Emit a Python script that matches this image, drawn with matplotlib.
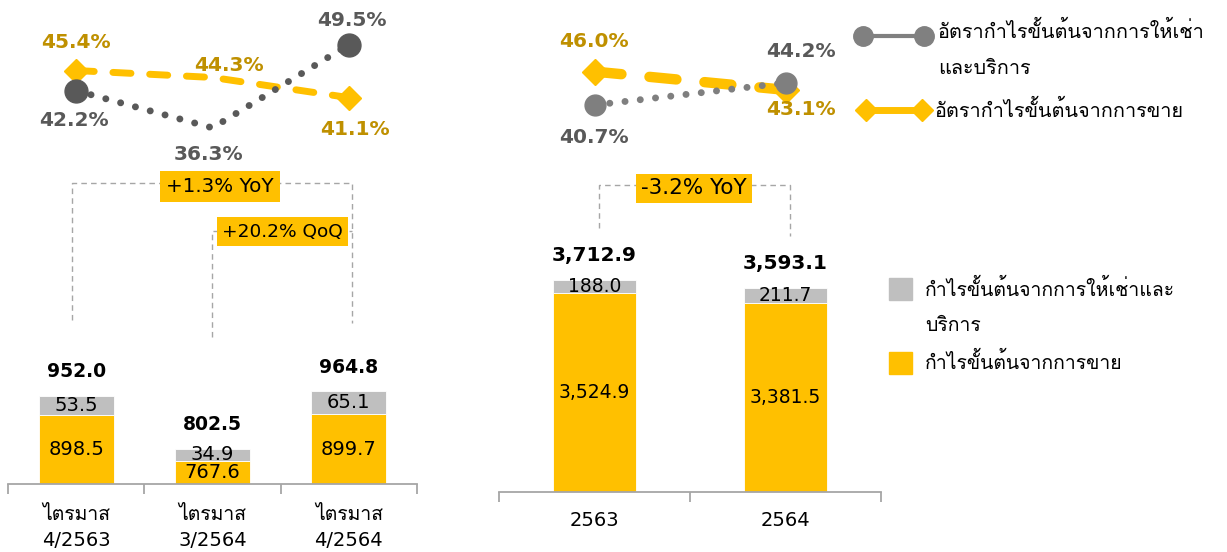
import numpy as np
import matplotlib
matplotlib.use('Agg')
import matplotlib.pyplot as plt
from matplotlib.lines import Line2D
from matplotlib.patches import Rectangle
from matplotlib import font_manager

#### DATA ####
quarters = ['ไตรมาส\n4/2563', 'ไตรมาส\n3/2564', 'ไตรมาส\n4/2564']
q_sales = [898.5, 767.6, 899.7]
q_rent = [53.5, 34.9, 65.1]
q_total = [952.0, 802.5, 964.8]
q_margin_rent = [42.2, 36.3, 49.5]
q_margin_sales = [45.4, 44.3, 41.1]

years = ['2563', '2564']
y_sales = [3524.9, 3381.5]
y_rent = [188.0, 211.7]
y_total = [3712.9, 3593.1]
y_margin_rent = [40.7, 44.2]
y_margin_sales = [46.0, 43.1]

q_changes = ['+1.3% YoY', '+20.2% QoQ']
y_changes = ['-3.2% YoY']

label_rent_margin = 'อัตรากำไรขั้นต้นจากการให้เช่า\nและบริการ'
label_sales_margin = 'อัตรากำไรขั้นต้นจากการขาย'
label_rent_profit = 'กำไรขั้นต้นจากการให้เช่าและ\nบริการ'
label_sales_profit = 'กำไรขั้นต้นจากการขาย'

YELLOW = '#FFC000'
DARK_YELLOW = '#BF9000'
BAR_GREY = '#BFBFBF'
DARK_GREY = '#595959'
MID_GREY = '#7F7F7F'
AXIS_GREY = '#A6A6A6'


#### FONTS ####
def find_thai_font():
    # look for any installed font that has Thai glyphs
    try:
        from fontTools.ttLib import TTFont
    except ImportError:
        return None
    for f in font_manager.fontManager.ttflist:
        try:
            font = TTFont(f.fname, fontNumber=0, lazy=True)
            if 0x0E01 in font.getBestCmap():
                return f.name
        except Exception:
            continue
    return None


thai = find_thai_font()
plt.rcParams['font.family'] = ['DejaVu Sans', thai] if thai else ['DejaVu Sans']

W, H = 1227, 552
fig = plt.figure(figsize=(W / 100, H / 100), dpi=100)


def rect(x0, y0, x1, y1):
    # pixel box (top-left origin) -> figure fraction
    return [x0 / W, 1 - y1 / H, (x1 - x0) / W, (y1 - y0) / H]


#### STACKED BARS ####
def bar_panel(box, cats, sales, rent, total, ylim, width, fs_in, fs_tot,
              tick_pad, comma=False):
    ax = fig.add_axes(box)
    ax.set_facecolor('none')
    x = np.arange(len(cats))
    ax.bar(x, sales, width, color=YELLOW, edgecolor='white', linewidth=0.6)
    ax.bar(x, rent, width, bottom=sales, color=BAR_GREY, edgecolor='white',
           linewidth=0.6)
    ax.set_xlim(-0.5, len(cats) - 0.5)
    ax.set_ylim(*ylim)
    fmt = '{:,.1f}' if comma else '{:.1f}'
    for i in range(len(cats)):
        ax.text(x[i], (ylim[0] + sales[i]) / 2, fmt.format(sales[i]),
                ha='center', va='center', fontsize=fs_in)
        ax.text(x[i], sales[i] + rent[i] / 2, fmt.format(rent[i]),
                ha='center', va='center', fontsize=fs_in)
        ax.annotate(fmt.format(total[i]), (x[i], sales[i] + rent[i]),
                    xytext=(0, 24), textcoords='offset pixels',
                    ha='center', va='center', fontsize=fs_tot,
                    fontweight='bold')
    for s in ['left', 'right', 'top']:
        ax.spines[s].set_visible(False)
    ax.spines['bottom'].set_color(AXIS_GREY)
    ax.spines['bottom'].set_linewidth(1.3)
    ax.set_yticks([])
    ax.set_xticks(x, cats)
    ax.set_xticks(np.arange(len(cats) + 1) - 0.5, minor=True)
    ax.tick_params(axis='x', which='major', length=0, pad=tick_pad,
                   labelsize=14)
    ax.tick_params(axis='x', which='minor', length=7, width=1.3,
                   color=AXIS_GREY)
    for t in ax.get_xticklabels():
        t.set_linespacing(1.45)
    return ax


def bracket(ax, xl, xr, top, bl, br, text, tx, ty, fs, pad=0.3):
    ax.plot([xl, xl, xr, xr], [bl, top, top, br], color=AXIS_GREY, lw=1,
            linestyle=(0, (4, 3)), clip_on=False, zorder=1)
    ax.text(tx, ty, text, ha='center', va='center', fontsize=fs, zorder=3,
            bbox=dict(boxstyle=f'square,pad={pad}', fc=YELLOW, ec='none'))


axq = bar_panel(rect(8, 0, 417, 484), quarters, q_sales, q_rent, q_total,
                (703, 703 + 484 / 0.355), 0.55, 14, 13.5, 15)
bracket(axq, -0.03, 2.02, 1551, 1165, 1156, q_changes[0], 1.055, 1541, 14.3)
bracket(axq, 0.996, 2.02, 1416, 1117, 1416, q_changes[1], 1.513, 1414, 13.3)

axy = bar_panel(rect(499, 0, 881, 492), years, y_sales, y_rent, y_total,
                (678, 678 + 492 / 0.07), 0.435, 13.5, 14.5, 14, comma=True)
bracket(axy, 0.024, 1.024, 5064, 4449, 4335, y_changes[0], 0.521, 5014, 15.5,
        pad=0.22)


#### MARGIN LINES ####
def margin_panel(box, rent, sales, ylim, grey, lw_sales, ms_o, ms_d,
                 off_rent, off_sales):
    ax = fig.add_axes(box)
    ax.set_facecolor('none')
    ax.axis('off')
    n = len(rent)
    x = np.arange(n)
    ax.set_xlim(-0.5, n - 0.5)
    ax.set_ylim(*ylim)
    ax.plot(x, sales, color=YELLOW, lw=lw_sales, linestyle=(0, (2.6, 2.7)),
            dash_capstyle='round', marker='D', ms=ms_d, markevery=[0, n - 1])
    ax.plot(x, rent, color=grey, lw=5, linestyle=(0, (0.01, 2.2)),
            dash_capstyle='round', marker='o', ms=ms_o, markevery=[0, n - 1])
    for i in range(n):
        ax.annotate(f'{rent[i]:.1f}%', (x[i], rent[i]), xytext=off_rent[i],
                    textcoords='offset pixels', ha='center', va='center',
                    color=DARK_GREY, fontsize=14.5, fontweight='bold')
        ax.annotate(f'{sales[i]:.1f}%', (x[i], sales[i]), xytext=off_sales[i],
                    textcoords='offset pixels', ha='center', va='center',
                    color=DARK_YELLOW, fontsize=14.5, fontweight='bold')
    return ax


margin_panel(rect(8, 20, 417, 160), q_margin_rent, q_margin_sales,
             (31.2, 53.42), DARK_GREY, 5, 16.5, 12.5,
             [(-2, -30), (-4, -27), (3, 24)], [(0, 28), (16, 12), (6, -32)])
margin_panel(rect(499, 20, 881, 160), y_margin_rent, y_margin_sales,
             (31.97, 54.19), MID_GREY, 7.5, 15, 13,
             [(-1, -33), (15, 31)], [(-1, 30), (15, -20)])


#### LEGENDS ####
def px(x, y):
    return x / W, 1 - y / H


lx, ly = px(863, 36)
rx, _ = px(924, 36)
fig.add_artist(Line2D([lx, rx], [ly, ly], color='#808080', lw=3,
                      marker='o', ms=14, transform=fig.transFigure))
lx, ly = px(866, 110)
rx, _ = px(922, 110)
fig.add_artist(Line2D([lx, rx], [ly, ly], color=YELLOW, lw=5,
                      marker='D', ms=11, transform=fig.transFigure))
fig.text(*px(938, 21), label_rent_margin, ha='left', va='top',
         fontsize=14.3, linespacing=2.1)
fig.text(*px(935, 110), label_sales_margin, ha='left', va='center',
         fontsize=14.3)

for y0, col in [(278, BAR_GREY), (352, YELLOW)]:
    x0, y1 = px(889, y0 + 22)
    fig.add_artist(Rectangle((x0, y1), 23 / W, 22 / H, color=col,
                             transform=fig.transFigure))
fig.text(*px(925, 279), label_rent_profit, ha='left', va='top',
         fontsize=14, linespacing=2.05)
fig.text(*px(925, 362), label_sales_profit, ha='left', va='center',
         fontsize=14)

plt.savefig('out.png', dpi=100)
